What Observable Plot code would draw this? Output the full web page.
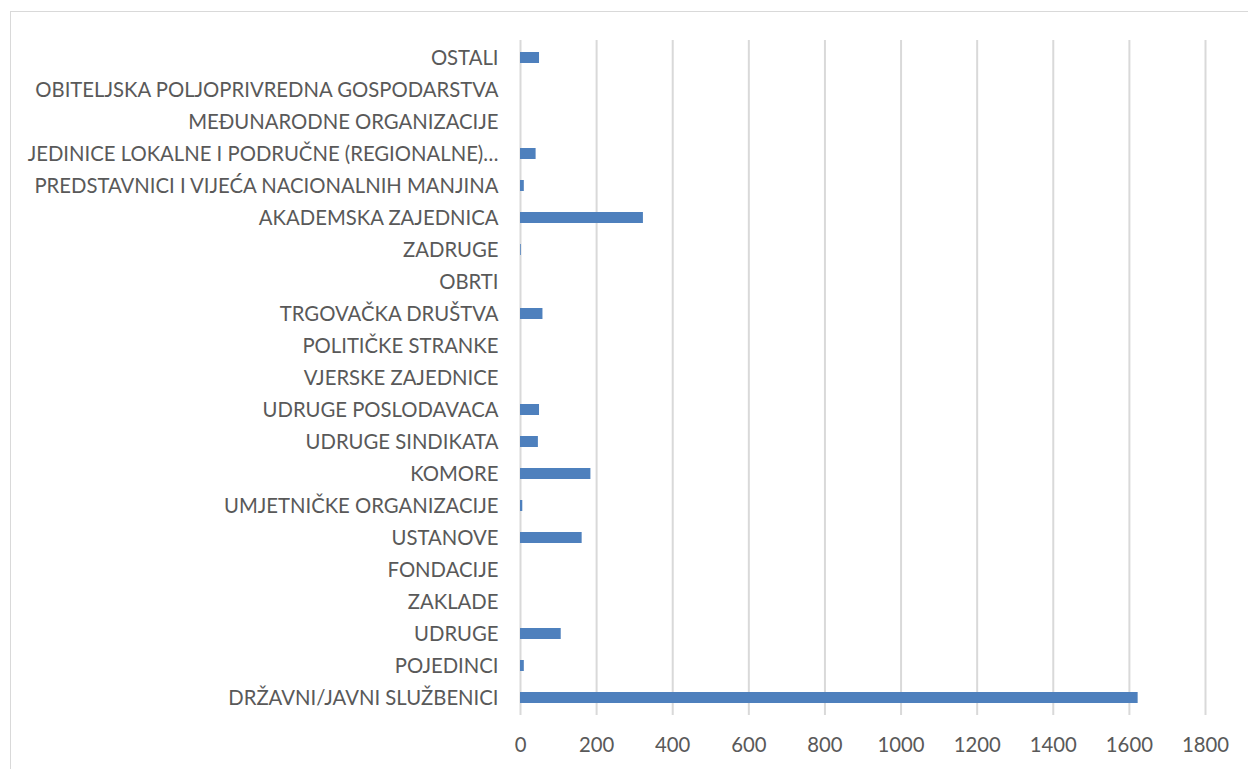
<!DOCTYPE html>
<html>
<head>
<meta charset="utf-8">
<script src="https://cdn.jsdelivr.net/npm/d3@7"></script>
<script src="https://cdn.jsdelivr.net/npm/@observablehq/plot@0.6"></script>
<style>
  html, body { margin: 0; padding: 0; background: #fff; overflow: hidden; }
  #frame { position: absolute; left: 10px; top: 11px; width: 1260px; height: 780px; border: 1px solid #d9d9d9; box-sizing: border-box; }
  #chart { position: absolute; left: 0; top: 0; }
</style>
</head>
<body>
<div id="frame"></div>
<div id="chart"></div>
<script>
// Categories listed bottom to top as in the original chart
const categories = [
  "DRŽAVNI/JAVNI SLUŽBENICI",
  "POJEDINCI",
  "UDRUGE",
  "ZAKLADE",
  "FONDACIJE",
  "USTANOVE",
  "UMJETNIČKE ORGANIZACIJE",
  "KOMORE",
  "UDRUGE SINDIKATA",
  "UDRUGE POSLODAVACA",
  "VJERSKE ZAJEDNICE",
  "POLITIČKE STRANKE",
  "TRGOVAČKA DRUŠTVA",
  "OBRTI",
  "ZADRUGE",
  "AKADEMSKA ZAJEDNICA",
  "PREDSTAVNICI I VIJEĆA NACIONALNIH MANJINA",
  "JEDINICE LOKALNE I PODRUČNE (REGIONALNE)…",
  "MEĐUNARODNE ORGANIZACIJE",
  "OBITELJSKA POLJOPRIVREDNA GOSPODARSTVA",
  "OSTALI"
];
const values = [1623, 10, 107, 0, 0, 162, 6, 185, 47, 50, 0, 0, 59, 0, 2, 323, 10, 41, 0, 0, 50];
const xTicks = [0, 200, 400, 600, 800, 1000, 1200, 1400, 1600, 1800];

const data = categories.map((c, i) => ({category: c, value: values[i]}));
const font = "Lato, 'Open Sans', sans-serif";

const chart = Plot.plot({
  width: 1248,
  height: 769,
  marginLeft: 520,
  marginRight: 43,
  marginTop: 40,
  marginBottom: 54,
  style: { fontFamily: font, fontSize: "20.3px", color: "#595959", background: "transparent" },
  x: { domain: [0, 1800], ticks: xTicks, label: null },
  y: { domain: categories.slice().reverse(), paddingInner: 0.65, paddingOuter: 0.325, label: null },
  marks: [
    Plot.gridX(xTicks, { stroke: "#d9d9d9", strokeOpacity: 1, strokeWidth: 2 }),
    Plot.barX(data, { x: "value", y: "category", fill: "#4e80bd" }),
    Plot.axisX(xTicks, { tickSize: 0, tickPadding: 22, fill: "#595959", fontSize: 20.3, label: null, tickFormat: d => String(d) }),
    Plot.axisY({ tickSize: 0, tickPadding: 22, fill: "#595959", fontSize: 20.3, label: null })
  ]
});
document.getElementById("chart").appendChild(chart);
</script>
</body>
</html>
